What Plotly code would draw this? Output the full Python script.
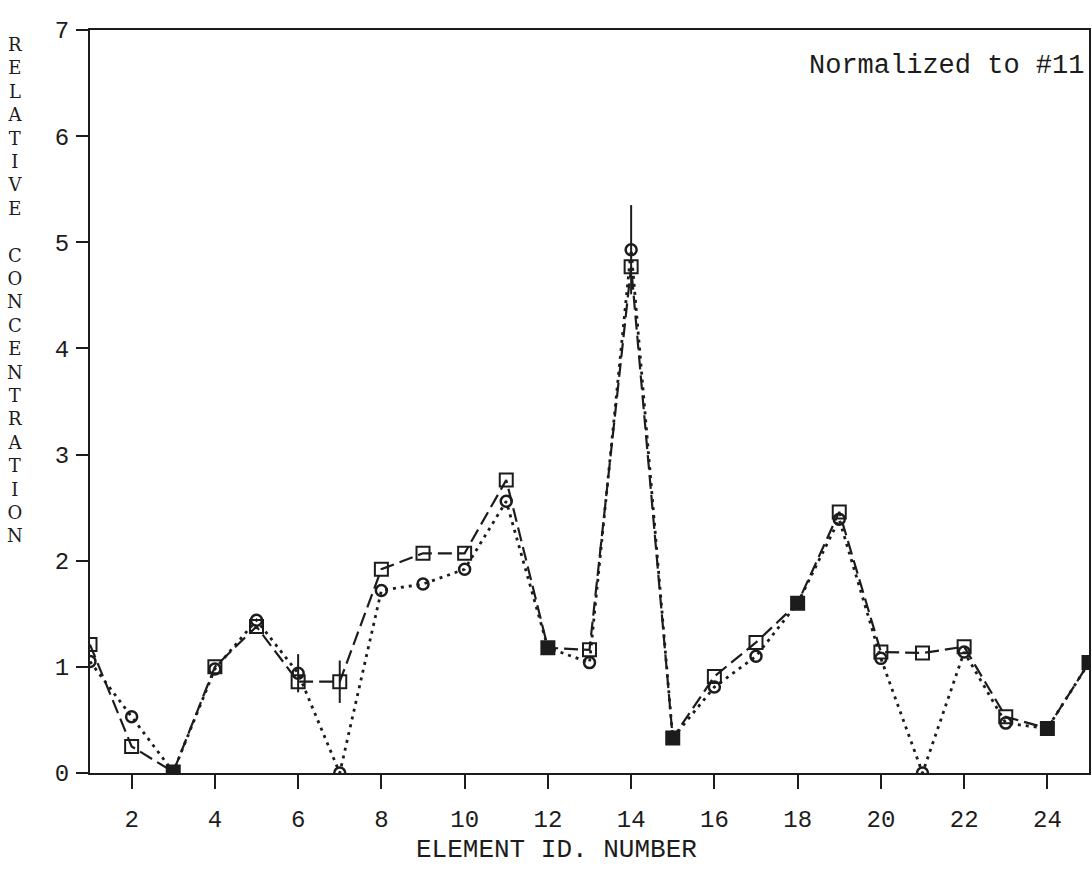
import plotly.graph_objects as go

# Element ID numbers on the horizontal axis
elements = list(range(1, 26))

# Relative concentration, two sample sets (normalized to element #11)
squares = [1.21, 0.25, 0.01, 1.00, 1.38, 0.86, 0.86, 1.92, 2.07, 2.07, 2.76, 1.18, 1.16,
           4.77, 0.33, 0.91, 1.23, 1.60, 2.46, 1.14, 1.13, 1.19, 0.53, 0.42, 1.04]
circles = [1.05, 0.53, 0.01, 0.98, 1.44, 0.94, 0.00, 1.72, 1.78, 1.92, 2.56, 1.18, 1.04,
           4.93, 0.33, 0.81, 1.10, 1.60, 2.39, 1.08, 0.00, 1.14, 0.47, 0.42, 1.04]

# Uncertainty (half-range) on individual points
squares_err = [0, 0, 0, 0, 0, 0, 0.20, 0, 0, 0, 0, 0, 0,
               0, 0, 0, 0, 0, 0, 0, 0, 0, 0, 0, 0]
circles_err = [0, 0, 0, 0, 0, 0.18, 0, 0, 0, 0, 0, 0, 0,
               0.42, 0, 0, 0, 0, 0, 0, 0, 0, 0, 0, 0]

# Elements where both sets give the same value (drawn as filled squares)
coincident = [3, 12, 15, 18, 24, 25]

x_ticks = list(range(2, 25, 2))
y_ticks = list(range(0, 8))

y_title = "RELATIVE CONCENTRATION"
x_title = "ELEMENT ID. NUMBER"
note = "Normalized to #11"

INK = "#1c1c1c"
MONO = "Liberation Mono, Courier New, monospace"

fig = go.Figure()

fig.add_trace(go.Scatter(
    x=elements, y=squares, mode="lines+markers",
    line=dict(color=INK, width=2.2, dash="14px,6px"),
    marker=dict(symbol="square-open", size=13, color=INK, line=dict(width=2, color=INK)),
    error_y=dict(type="data", array=squares_err, visible=True, color=INK, thickness=2, width=0),
    showlegend=False,
))

fig.add_trace(go.Scatter(
    x=elements, y=circles, mode="lines+markers",
    line=dict(color=INK, width=2.8, dash="3px,5px"),
    marker=dict(symbol="circle-open", size=11, color=INK, line=dict(width=2.5, color=INK)),
    error_y=dict(type="data", array=circles_err, visible=True, color=INK, thickness=2, width=0),
    showlegend=False,
))

same_x = [e for e in elements if e in coincident]
same_y = [squares[elements.index(e)] for e in same_x]
fig.add_trace(go.Scatter(
    x=same_x, y=same_y, mode="markers",
    marker=dict(symbol="square", size=13, color=INK),
    showlegend=False,
))

plot_top, plot_h, plot_l, plot_w = 30, 743, 90, 1001

# Vertical, letter-stacked axis title (one letter per line)
stacked = "<br>".join(ch if ch != " " else " " for ch in y_title)
fig.add_annotation(
    x=(15 - plot_l) / plot_w, y=(plot_top + plot_h - 290) / plot_h,
    xref="paper", yref="paper", text=stacked, showarrow=False,
    xanchor="center", yanchor="middle", align="center",
    font=dict(family="DejaVu Serif, Liberation Serif, serif", size=18, color=INK),
)

fig.add_annotation(
    x=(557 - plot_l) / plot_w, y=(plot_top + plot_h - 850) / plot_h,
    xref="paper", yref="paper", text=x_title, showarrow=False,
    xanchor="center", yanchor="middle",
    font=dict(family=MONO, size=26, color=INK),
)

fig.add_annotation(
    x=(1088 - plot_l) / plot_w, y=(plot_top + plot_h - 66) / plot_h,
    xref="paper", yref="paper", text=note, showarrow=False,
    xanchor="right", yanchor="middle",
    font=dict(family=MONO, size=27, color=INK),
)

fig.update_layout(
    width=1092, height=889,
    margin=dict(l=90, r=1, t=30, b=116, pad=0),
    paper_bgcolor="white", plot_bgcolor="white",
    font=dict(family=MONO, color=INK),
)

fig.update_xaxes(
    range=[1, 25], tickvals=x_ticks, ticktext=[str(v) for v in x_ticks],
    showgrid=False, zeroline=False,
    showline=True, linecolor=INK, linewidth=2, mirror=True,
    ticks="outside", ticklen=14, tickwidth=2, tickcolor=INK,
    tickfont=dict(family=MONO, size=24, color=INK),
    ticklabelstandoff=9,
)

fig.update_yaxes(
    range=[0, 7], tickvals=y_ticks, ticktext=[str(v) for v in y_ticks],
    showgrid=False, zeroline=False,
    showline=True, linecolor=INK, linewidth=2, mirror=True,
    ticks="outside", ticklen=12, tickwidth=2, tickcolor=INK,
    tickfont=dict(family=MONO, size=24, color=INK),
    ticklabelstandoff=2,
)

fig.write_html("out.html")
